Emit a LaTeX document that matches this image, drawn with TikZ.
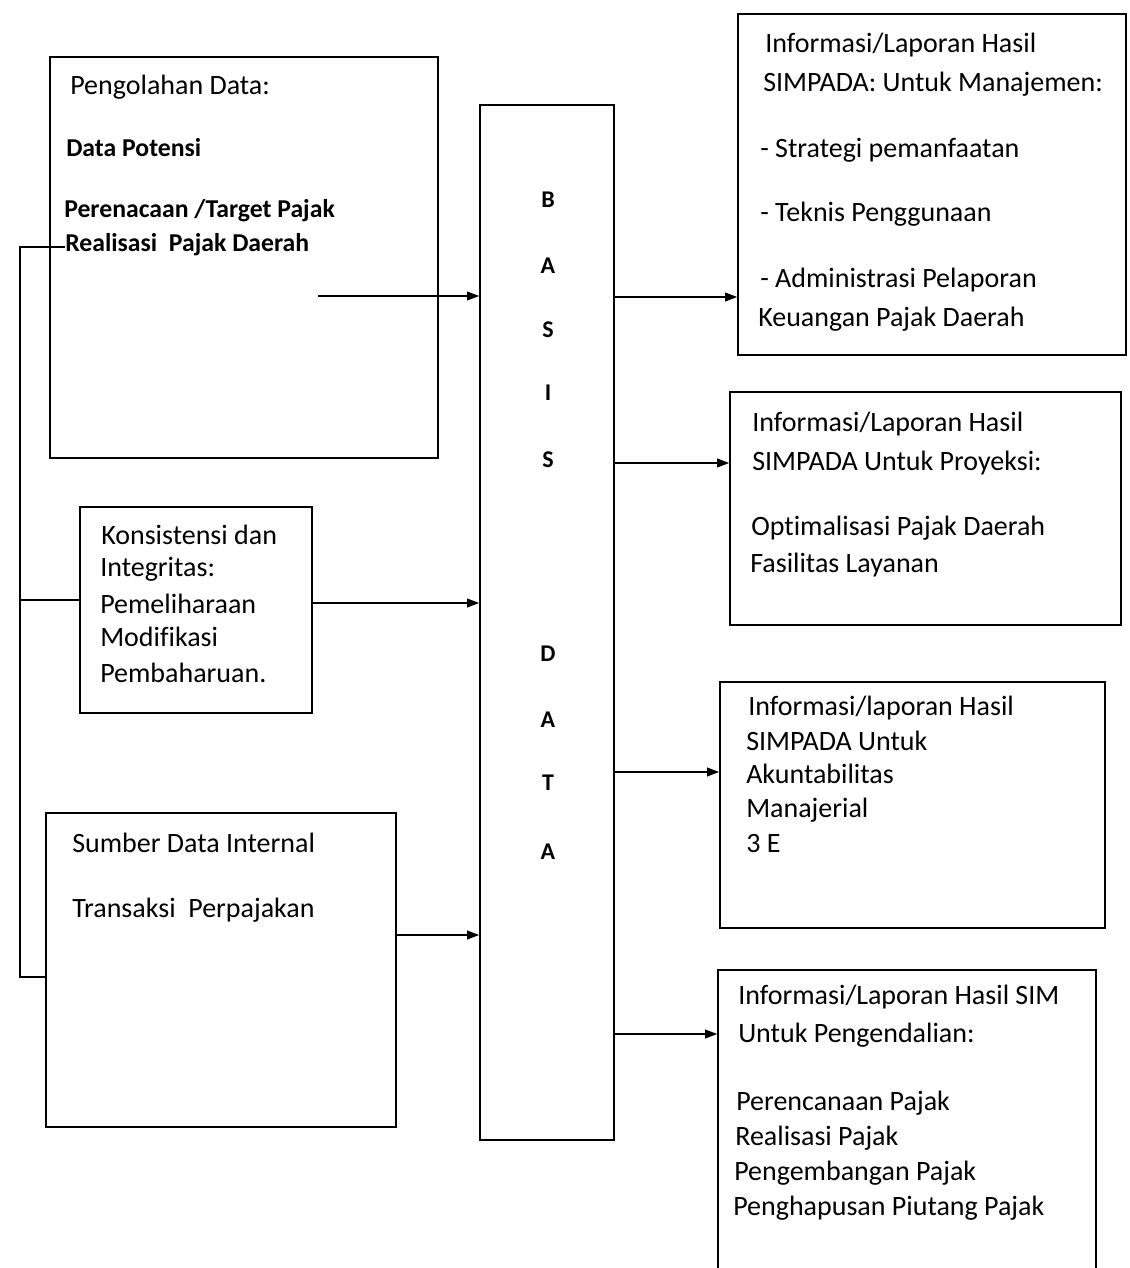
\documentclass[tikz,border=0pt]{standalone}
\usepackage{fontspec}
\setmainfont[Ligatures=NoCommon]{Carlito}
\usetikzlibrary{arrows.meta,fit}
\begin{document}
\begin{tikzpicture}[x=0.75pt,y=-0.75pt,
  box/.style={draw,line width=1.2pt,inner sep=0pt},
  arr/.style={line width=1.1pt,-{Triangle[length=9pt,width=6.5pt]}},
  conn/.style={line width=1.2pt},
  txt/.style={anchor=west,inner sep=0pt,font=\fontsize{21}{23}\selectfont},
  btxt/.style={anchor=west,inner sep=0pt,font=\fontsize{19.3}{21}\selectfont\bfseries},
  let/.style={inner sep=0pt,font=\fontsize{18}{20}\selectfont\bfseries}]
\useasboundingbox (0,0) rectangle (1129,1268);
\clip (0,0) rectangle (1129,1268);
% boxes
\node[box,fit={(50,57)(438,458)}] (b1) {};
\node[box,fit={(480,105)(614,1140)}] (bd) {};
\node[box,fit={(80,507)(312,713)}] (b2) {};
\node[box,fit={(46,813)(396,1127)}] (b3) {};
\node[box,fit={(738,14)(1126,355)}] (r1) {};
\node[box,fit={(730,392)(1121,625)}] (r2) {};
\node[box,fit={(720,682)(1105,928)}] (r3) {};
\node[box,fit={(718,970)(1096,1300)}] (r4) {};
% box 1 text
\node[txt] (t1a) at (70,87) {Pengolahan Data:};
\node[btxt] (t1b) at (66,148) {Data Potensi};
\node[btxt] (t1c) at (64,211) {Perenacaan /Target Pajak};
\node[btxt] (t1d) at (65,245) {Realisasi\ \ Pajak Daerah};
% box 2 text
\node[txt] (t2a) at (101,535) {Konsistensi dan};
\node[txt] (t2b) at (100,569) {Integritas:};
\node[txt] (t2c) at (100,604) {Pemeliharaan};
\node[txt] (t2d) at (100,637) {Modifikasi};
\node[txt] (t2e) at (100,673) {Pembaharuan.};
% box 3 text
\node[txt] (t3a) at (72,843) {Sumber Data Internal};
\node[txt] (t3b) at (72,910) {Transaksi\ \ Perpajakan};
% basis data letters
\foreach \l/\yy/\n in {B/200/l1,A/266/l2,S/330/l3,I/393/l4,S/460/l5,D/654/l6,A/720/l7,T/783/l8,A/852/l9}
  \node[let] (\n) at (548,\yy) {\l};
% r1 text
\node[txt] (u1a) at (765,45) {Informasi/Laporan Hasil};
\node[txt] (u1b) at (763,84) {SIMPADA: Untuk Manajemen:};
\node[txt] (u1c) at (760,150) {- Strategi pemanfaatan};
\node[txt] (u1d) at (760,214) {- Teknis Penggunaan};
\node[txt] (u1e) at (760,280) {- Administrasi Pelaporan};
\node[txt] (u1f) at (758,319) {Keuangan Pajak Daerah};
% r2 text
\node[txt] (u2a) at (752,424) {Informasi/Laporan Hasil};
\node[txt] (u2b) at (752,463) {SIMPADA Untuk Proyeksi:};
\node[txt] (u2c) at (751,528) {Optimalisasi Pajak Daerah};
\node[txt] (u2d) at (750,565) {Fasilitas Layanan};
% r3 text
\node[txt] (u3a) at (748,708) {Informasi/laporan Hasil};
\node[txt] (u3b) at (746,741) {SIMPADA Untuk};
\node[txt] (u3c) at (746,774) {Akuntabilitas};
\node[txt] (u3d) at (746,810) {Manajerial};
\node[txt] (u3e) at (746,843) {3 E};
% r4 text
\node[txt] (u4a) at (738,997) {Informasi/Laporan Hasil SIM};
\node[txt] (u4b) at (738,1035) {Untuk Pengendalian:};
\node[txt] (u4c) at (736,1103) {Perencanaan Pajak};
\node[txt] (u4d) at (735,1138) {Realisasi Pajak};
\node[txt] (u4e) at (734,1173) {Pengembangan Pajak};
\node[txt] (u4f) at (733,1208) {Penghapusan Piutang Pajak};
% input arrows
\coordinate (s1) at (318,296);
\draw[arr] (s1) -- (s1 -| bd.west);
\coordinate (s2) at (312,603);
\draw[arr] (s2) -- (s2 -| bd.west);
\coordinate (s3) at (396,935);
\draw[arr] (s3) -- (s3 -| bd.west);
% output arrows
\draw[arr] (bd.east |- 0,297) -- (r1.west |- 0,297);
\draw[arr] (bd.east |- 0,463) -- (r2.west |- 0,463);
\draw[arr] (bd.east |- 0,772) -- (r3.west |- 0,772);
\draw[arr] (bd.east |- 0,1034) -- (r4.west |- 0,1034);
% left connector
\coordinate (c0) at (65,247);
\coordinate (c1) at (20,247);
\coordinate (c2) at (20,600);
\coordinate (c3) at (20,977);
\draw[conn] (c0) -- (c1) -- (c3) -- (c3 -| b3.west);
\draw[conn] (c2) -- (c2 -| b2.west);
\end{tikzpicture}
\end{document}
